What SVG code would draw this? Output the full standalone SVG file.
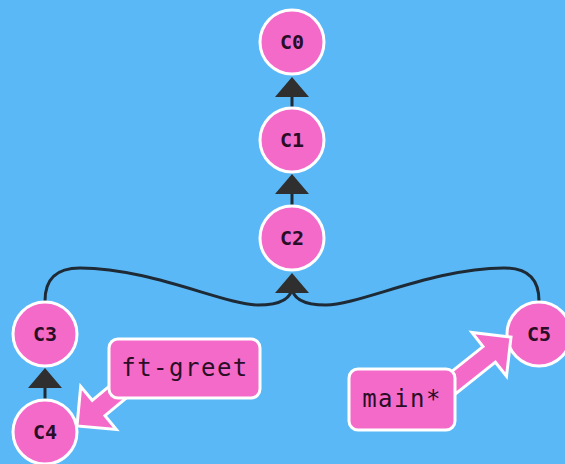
<svg xmlns="http://www.w3.org/2000/svg" width="565" height="464" viewBox="0 0 565 464">
<defs>
<style>
.node circle{fill:#f46ac9;stroke:#fff;stroke-width:3}
.node text{font-family:"DejaVu Sans Mono","Liberation Mono",monospace;font-weight:bold;font-size:20px;fill:#2a0d26;text-anchor:middle;dominant-baseline:central}
.edge{fill:none;stroke:#1e2a36;stroke-width:3}
.head{fill:#2f2f2f}
.label rect,.label polygon{fill:#f46ac9;stroke:#fff;stroke-width:3;stroke-linejoin:miter}
.label text{font-family:"DejaVu Sans Mono","Liberation Mono",monospace;font-size:24px;letter-spacing:1.5px;fill:#2a0d26;text-anchor:middle;dominant-baseline:central}
</style>
</defs>
<rect width="565" height="464" fill="#5bb8f6"/>
<g id="connectors">
<line class="edge" x1="292" y1="108" x2="292" y2="96"/>
<polygon class="head" points="292,77 309,97 275,97"/>
<line class="edge" x1="292" y1="206" x2="292" y2="194"/>
<polygon class="head" points="292,174 309,194 275,194"/>
<path class="edge" d="M45,301 C45,280 55,268 80,268 C150,268 225,305 258,305 C282,305 292,298 292,286"/>
<path class="edge" d="M539,301 C539,280 529,268 504,268 C434,268 359,305 326,305 C302,305 292,298 292,286"/>
<polygon class="head" points="292,273 309,293 275,293"/>
<line class="edge" x1="45" y1="400" x2="45" y2="386"/>
<polygon class="head" points="45,368 62,388 28,388"/>
</g>
<g id="C0" class="node"><circle cx="292" cy="42" r="32"/><text x="292" y="42">C0</text></g>
<g id="C1" class="node"><circle cx="292" cy="140" r="32"/><text x="292" y="140">C1</text></g>
<g id="C2" class="node"><circle cx="292" cy="238" r="32"/><text x="292" y="238">C2</text></g>
<g id="C3" class="node"><circle cx="45" cy="334" r="32"/><text x="45" y="334">C3</text></g>
<g id="C4" class="node"><circle cx="45" cy="432" r="32"/><text x="45" y="432">C4</text></g>
<g id="C5" class="node"><circle cx="539" cy="334" r="32"/><text x="539" y="334">C5</text></g>
<g id="ft-greet" class="label">
<polygon points="130.7,368.3 92.2,400.3 80.7,386.5 77,426 116.3,429.5 105,415.7 143.5,383.7"/>
<rect x="109" y="339" width="151" height="59" rx="9"/>
<text x="185" y="368">ft-greet</text>
</g>
<g id="main" class="label">
<polygon points="444,377.6 483,346.6 471.9,332.5 511,337 506.5,376.3 495.4,362.2 456.4,393.2"/>
<rect x="349" y="369" width="106" height="61" rx="9"/>
<text x="402" y="399">main*</text>
</g>
</svg>
